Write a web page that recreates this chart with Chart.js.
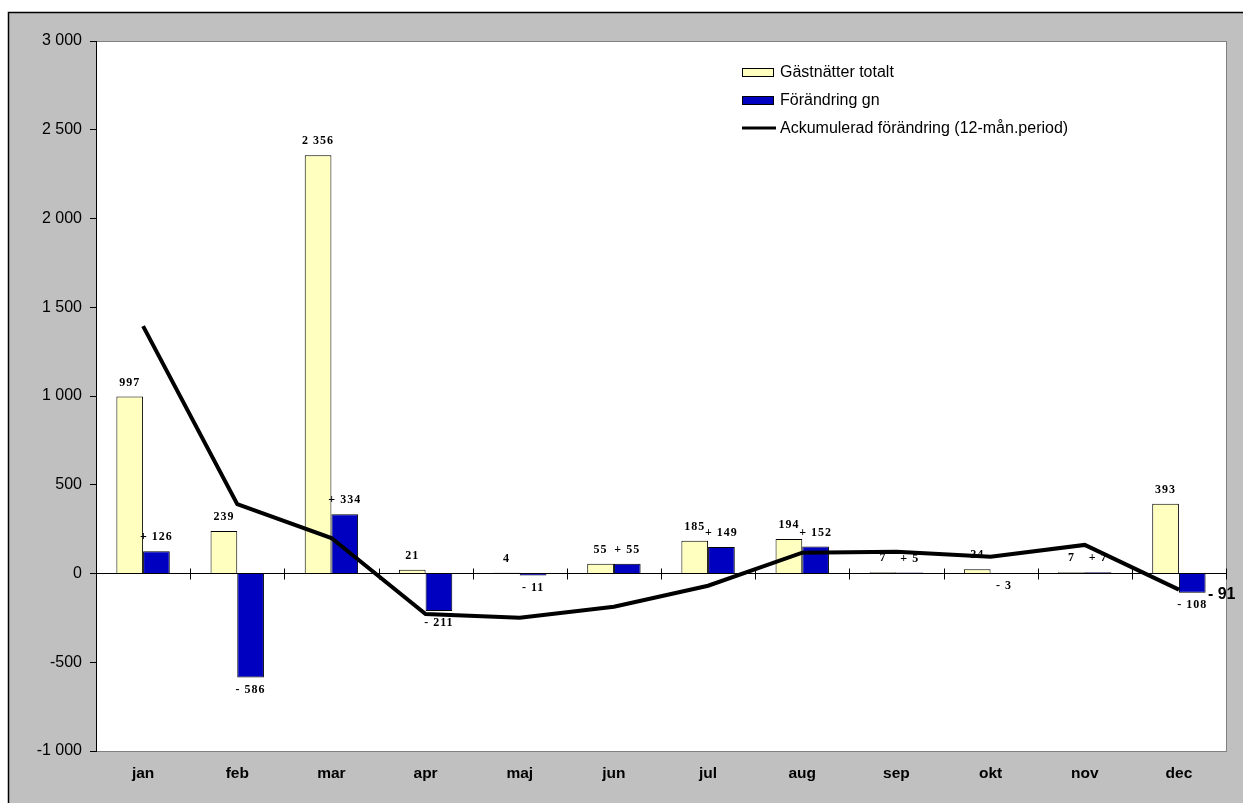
<!DOCTYPE html>
<html>
<head>
<meta charset="utf-8">
<script src="https://cdn.jsdelivr.net/npm/chart.js@4/dist/chart.umd.min.js"></script>
<style>
  html, body { margin: 0; padding: 0; background: #fff; }
  #wrap { width: 1243px; height: 803px; }
</style>
</head>
<body>
<div id="wrap"><canvas id="chart" width="1243" height="803"></canvas></div>
<script>
// values
const months = ['jan', 'feb', 'mar', 'apr', 'maj', 'jun', 'jul', 'aug', 'sep', 'okt', 'nov', 'dec'];
const gastnatter = [997, 239, 2356, 21, 4, 55, 185, 194, 7, 24, 7, 393];
const forandring = [126, -586, 334, -211, -11, 55, 149, 152, 5, -3, 7, -108];
const ackumulerad = [1394, 391, 200, -228, -249, -187, -69, 117, 123, 95, 161, -91];
const yTicks = [-1000, -500, 0, 500, 1000, 1500, 2000, 2500, 3000];

const SANS = '"Liberation Sans", Arial, sans-serif';
const SERIF = '"Liberation Serif", "Times New Roman", serif';

// "3 000", "-1 000", "-500"
function fmt(v) {
    const s = String(Math.abs(v)).replace(/\B(?=(\d{3})+(?!\d))/g, ' ');
    return (v < 0 ? '-' : '') + s;
}

// grey frame + white plot area
const background = {
    id: 'background',
    beforeDraw(chart) {
        const c = chart.ctx, a = chart.chartArea;
        c.save();
        c.fillStyle = '#fff';
        c.fillRect(0, 0, chart.width, chart.height);
        c.fillStyle = '#c0c0c0';
        c.fillRect(8, 12, chart.width, chart.height);
        c.strokeStyle = '#000';
        c.lineWidth = 1.5;
        c.beginPath();
        c.moveTo(8.5, chart.height);
        c.lineTo(8.5, 12.5);
        c.lineTo(chart.width, 12.5);
        c.stroke();
        c.fillStyle = '#fff';
        c.fillRect(a.left, a.top, a.width, a.height);
        c.strokeStyle = '#808080';
        c.lineWidth = 1;
        c.strokeRect(a.left + 0.5, a.top + 0.5, a.width, a.height);
        c.restore();
    }
};

// small ticks crossing the zero line between months
const zeroTicks = {
    id: 'zeroTicks',
    afterDatasetsDraw(chart) {
        const c = chart.ctx, x = chart.scales.x, y0 = chart.scales.y.getPixelForValue(0);
        c.save();
        c.strokeStyle = '#000';
        c.lineWidth = 1;
        c.beginPath();
        for (let i = 0; i < months.length; i++) {
            const bx = Math.round((x.getPixelForValue(i) + x.getPixelForValue(i + 1)) / 2) + 0.5;
            c.moveTo(bx, y0 - 5);
            c.lineTo(bx, y0 + 6);
        }
        c.stroke();
        c.restore();
    }
};

// number labels on bars and the last point of the line
const valueLabels = {
    id: 'valueLabels',
    afterDraw(chart) {
        const c = chart.ctx;
        c.save();
        c.fillStyle = '#000';
        c.textAlign = 'center';
        c.textBaseline = 'middle';
        c.font = 'bold 12px ' + SERIF;
        c.letterSpacing = '1px';
        [0, 1].forEach(di => {
            const meta = chart.getDatasetMeta(di);
            const vals = chart.data.datasets[di].data;
            meta.data.forEach((bar, i) => {
                const v = vals[i];
                let txt;
                if (di === 0) txt = fmt(v);
                else txt = (v < 0 ? '- ' : '+ ') + fmt(Math.abs(v));
                const top = Math.min(bar.y, bar.base), bottom = Math.max(bar.y, bar.base);
                const ty = v < 0 ? bottom + 12 : top - 14;
                c.fillText(txt, bar.x, ty);
            });
        });
        // end label of the cumulative line
        const lm = chart.getDatasetMeta(2);
        const last = lm.data[lm.data.length - 1];
        const lv = ackumulerad[ackumulerad.length - 1];
        c.letterSpacing = '0px';
        c.textAlign = 'left';
        c.font = 'bold 16px ' + SANS;
        c.fillText((lv < 0 ? '- ' : '+ ') + fmt(Math.abs(lv)), last.x + 29, last.y + 5);
        c.restore();
    }
};

// legend inside the plot, top right
const boxLegend = {
    id: 'boxLegend',
    afterDraw(chart) {
        const c = chart.ctx;
        const lx = 742, rows = [72, 100, 128];
        c.save();
        c.font = '16px ' + SANS;
        c.textBaseline = 'middle';
        c.textAlign = 'left';
        chart.data.datasets.forEach((ds, i) => {
            const y = rows[i];
            if (ds.type === 'line') {
                c.strokeStyle = ds.borderColor;
                c.lineWidth = 3;
                c.beginPath();
                c.moveTo(lx, y);
                c.lineTo(lx + 34, y);
                c.stroke();
            } else {
                c.fillStyle = ds.backgroundColor;
                c.fillRect(lx, y - 4, 31, 8);
                c.strokeStyle = '#000';
                c.lineWidth = 1;
                c.strokeRect(lx + 0.5, y - 3.5, 31, 8);
            }
            c.fillStyle = '#000';
            c.fillText(ds.label, lx + 38, y + 1);
        });
        c.restore();
    }
};

new Chart(document.getElementById('chart'), {
    data: {
        labels: months,
        datasets: [
            {
                type: 'bar',
                label: 'Gästnätter totalt',
                data: gastnatter,
                backgroundColor: '#ffffc0',
                borderColor: '#000',
                borderWidth: 1,
                categoryPercentage: 0.567,
                barPercentage: 1,
                order: 1
            },
            {
                type: 'bar',
                label: 'Förändring gn',
                data: forandring,
                backgroundColor: '#0000c0',
                borderColor: '#000',
                borderWidth: 1,
                categoryPercentage: 0.567,
                barPercentage: 1,
                order: 1
            },
            {
                type: 'line',
                label: 'Ackumulerad förändring (12-mån.period)',
                data: ackumulerad,
                borderColor: '#000',
                borderWidth: 4,
                pointRadius: 0,
                tension: 0,
                fill: false,
                order: 0
            }
        ]
    },
    options: {
        responsive: false,
        animation: false,
        layout: { padding: { left: 0, top: 41, right: 17, bottom: 0 } },
        plugins: {
            legend: { display: false },
            tooltip: { enabled: false }
        },
        scales: {
            x: {
                grid: { display: false, drawTicks: false },
                border: { display: false },
                ticks: { color: '#000', font: { family: SANS, size: 15.5, weight: 'bold' }, padding: 13 },
                afterFit(s) { s.height = 52; }
            },
            y: {
                min: -1000,
                max: 3000,
                afterBuildTicks(s) { s.ticks = yTicks.map(v => ({ value: v })); },
                grid: {
                    drawOnChartArea: true,
                    color: ctx => (ctx.tick && ctx.tick.value === 0) ? '#000' : 'rgba(0,0,0,0)',
                    tickColor: '#000',
                    tickLength: 6,
                    lineWidth: 1
                },
                border: { color: '#000', width: 1 },
                ticks: {
                    color: '#000',
                    font: { family: SANS, size: 16 },
                    padding: 8,
                    callback: v => fmt(v)
                },
                afterFit(s) { s.width = 96; }
            }
        }
    },
    plugins: [background, zeroTicks, valueLabels, boxLegend]
});
</script>
</body>
</html>
